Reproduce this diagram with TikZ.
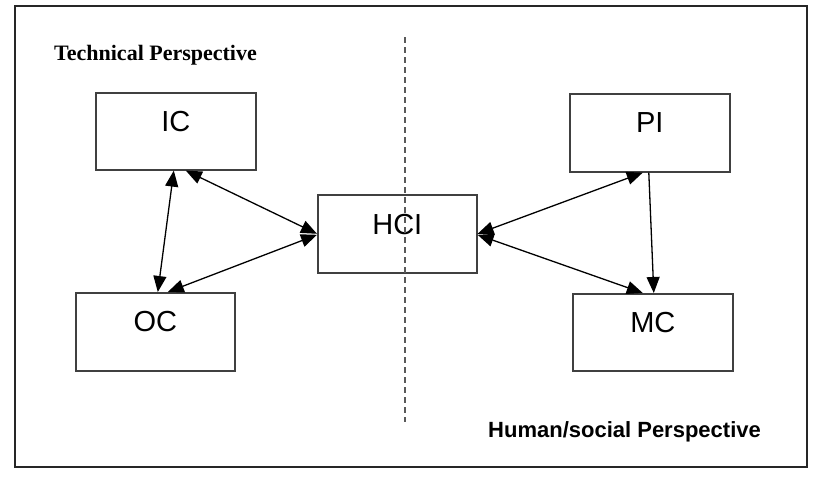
\documentclass[tikz,border=0pt]{standalone}
\usepackage{fontspec}
\setmainfont{Liberation Serif}
\newfontfamily\arialfont{Liberation Sans}
\usetikzlibrary{arrows.meta}
\begin{document}
\begin{tikzpicture}[x=1pt,y=-1pt,
  box/.style={draw=black!75,line width=1.6pt,minimum width=160pt,minimum height=77pt,inner sep=0pt,anchor=north west},
  lbl/.style={font=\arialfont\fontsize{29}{31}\selectfont,inner sep=0pt,anchor=center},
  conn/.style={line width=1.3pt,black,{Triangle[length=16pt,width=13pt]}-{Triangle[length=16pt,width=13pt]}},
  oneway/.style={line width=1.3pt,black,-{Triangle[length=16pt,width=13pt]}},
  divider/.style={draw=black!65,line width=1.1pt,dash pattern=on 6pt off 4pt}]
\useasboundingbox (0,0) rectangle (820,477);
\draw[black!85,line width=2pt] (15,6) rectangle (807,467);
% boxes
\node[box] (IC) at (95,92) {};
\node[box,minimum width=159pt,minimum height=78pt] (OC) at (75,292) {};
\node[box,minimum width=159pt,minimum height=78pt] (HCI) at (317,194) {};
\node[box,minimum height=78pt] (PI) at (569,93) {};
\node[box] (MC) at (572,293) {};
% labels
\node[lbl] (ICl) at ([yshift=-30pt]IC.north) {IC};
\node[lbl] (OCl) at ([yshift=-30pt]OC.north) {OC};
\node[lbl] (HCIl) at ([yshift=-31pt]HCI.north) {HCI};
\node[lbl] (PIl) at ([yshift=-30pt]PI.north) {PI};
\node[lbl] (MCl) at ([yshift=-30pt]MC.north) {MC};
% divider
\coordinate (dtop) at (405,37);
\coordinate (dbot) at (405,422);
\draw[divider] (dtop) -- (dbot);
% titles
\node[font=\bfseries\fontsize{22}{24}\selectfont,inner sep=0pt,anchor=base west] (tech) at (54,60) {Technical Perspective};
\node[font=\arialfont\bfseries\fontsize{22}{24}\selectfont,inner sep=0pt,anchor=base west] (human) at (488,437) {Human/social Perspective};
% connectors
\draw[conn] ([xshift=-2pt]IC.south) -- ([xshift=2.5pt]OC.north);
\draw[conn] ([xshift=10pt]IC.south) -- (HCI.west);
\draw[conn] ([xshift=12.5pt]OC.north) -- ([yshift=-1pt]HCI.west);
\draw[conn] ([xshift=-7pt]PI.south) -- (HCI.east);
\draw[conn] ([yshift=-1pt]HCI.east) -- ([xshift=-10pt]MC.north);
\draw[oneway] ([xshift=-1pt]PI.south) -- ([xshift=1pt]MC.north);
\end{tikzpicture}
\end{document}
